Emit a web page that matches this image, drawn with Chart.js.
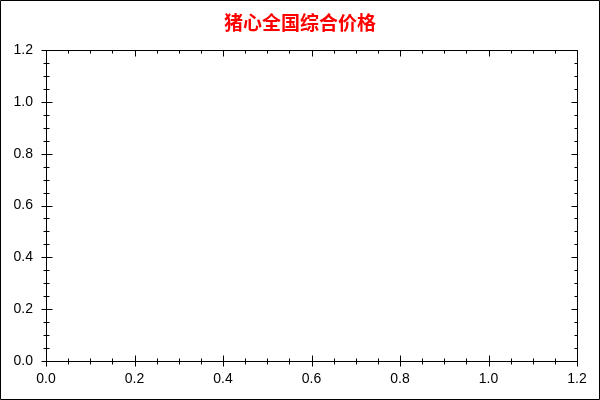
<!DOCTYPE html>
<html>
<head>
<meta charset="utf-8">
<script src="https://cdn.jsdelivr.net/npm/chart.js@4"></script>
<style>
  html, body { margin: 0; padding: 0; background: #fff; }
  canvas { display: block; }
</style>
</head>
<body>
<canvas id="myChart" width="600" height="400"></canvas>
<script>
// chart has no data at all, only the empty axes
const TITLE = '猪心全国综合价格';
const seriesX = [];
const seriesY = [];
const xTickValues = [0, 0.2, 0.4, 0.6, 0.8, 1.0, 1.2];
const yTickValues = [0, 0.2, 0.4, 0.6, 0.8, 1.0, 1.2];
const tickLabels = ['0.0', '0.2', '0.4', '0.6', '0.8', '1.0', '1.2'];
const minorStep = 0.05;
const AXIS_MIN = 0;
const AXIS_MAX = 1.2;

const points = seriesX.map((x, i) => ({x: x, y: seriesY[i]}));

// axis box + ticks, drawn through the chart scales
const boxTicks = {
  id: 'boxTicks',
  beforeDraw(chart) {
    const c = chart.ctx;
    c.save();
    c.fillStyle = '#fff';
    c.fillRect(0, 0, chart.width, chart.height);
    c.restore();
  },
  afterDraw(chart) {
    const c = chart.ctx;
    const a = chart.chartArea;
    const xs = chart.scales.x, ys = chart.scales.y;
    const L = Math.round(a.left) + 0.5, R = Math.round(a.right) + 0.5;
    const T = Math.round(a.top) + 0.5, B = Math.round(a.bottom) + 0.5;
    c.save();
    c.strokeStyle = '#000';
    c.lineWidth = 1;
    c.beginPath();
    c.rect(L, T, R - L, B - T);
    // outer frame
    c.rect(0.5, 0.5, chart.width - 1, chart.height - 1);

    const line = (x1, y1, x2, y2) => { c.moveTo(x1, y1); c.lineTo(x2, y2); };
    const isMajor = v => xTickValues.some(t => Math.abs(t - v) < 1e-6);
    for (let v = AXIS_MIN; v <= AXIS_MAX + 1e-6; v += minorStep) {
      const major = isMajor(v);
      const px = Math.round(xs.getPixelForValue(v)) + 0.5;
      const py = Math.round(ys.getPixelForValue(v)) + 0.5;
      if (major) {
        line(px, B - 6, px, B + 5);   // bottom
        line(px, T, px, T + 6);       // top
        line(L - 5, py, L + 6, py);   // left
        line(R - 6, py, R, py);       // right
      } else {
        line(px, B - 3, px, B + 3);
        line(px, T, px, T + 3);
        line(L - 3, py, L + 3, py);
        line(R - 3, py, R, py);
      }
    }
    c.stroke();
    c.restore();
  }
};

const tickFont = {family: 'Arial, "Liberation Sans", sans-serif', size: 14};

const config = {
  type: 'scatter',
  data: {
    datasets: [{ data: points, showLine: false, pointRadius: 0 }]
  },
  options: {
    responsive: false,
    devicePixelRatio: 1,
    animation: false,
    layout: { padding: 0 },
    scales: {
      x: {
        type: 'linear',
        min: AXIS_MIN,
        max: AXIS_MAX,
        afterBuildTicks: (s) => { s.ticks = xTickValues.map(v => ({value: v})); },
        afterFit: (s) => { s.height = 39; },
        grid: { display: false, drawTicks: false },
        border: { display: false },
        ticks: {
          padding: 10,
          maxRotation: 0,
          autoSkip: false,
          color: '#000',
          font: tickFont,
          callback: (v, i) => tickLabels[i]
        }
      },
      y: {
        type: 'linear',
        min: AXIS_MIN,
        max: AXIS_MAX,
        afterBuildTicks: (s) => { s.ticks = yTickValues.map(v => ({value: v})); },
        afterFit: (s) => { s.width = 46; },
        grid: { display: false, drawTicks: false },
        border: { display: false },
        ticks: {
          padding: 13,
          autoSkip: false,
          color: '#000',
          font: tickFont,
          callback: (v, i) => tickLabels[i]
        }
      },
      // empty right margin, keeps the title centred on the page
      yRight: {
        type: 'linear',
        position: 'right',
        afterFit: (s) => { s.width = 23; },
        grid: { display: false, drawTicks: false },
        border: { display: false },
        ticks: { display: false }
      }
    },
    plugins: {
      legend: { display: false },
      tooltip: { enabled: false },
      title: {
        display: true,
        text: TITLE,
        color: '#ff0000',
        font: { family: '"Noto Sans CJK SC", sans-serif', size: 19, weight: 'bold', lineHeight: '20px' },
        padding: { top: 13, bottom: 17 }
      }
    }
  },
  plugins: [boxTicks]
};

const ctx = document.getElementById('myChart').getContext('2d');
const myChart = new Chart(ctx, config);
</script>
</body>
</html>
